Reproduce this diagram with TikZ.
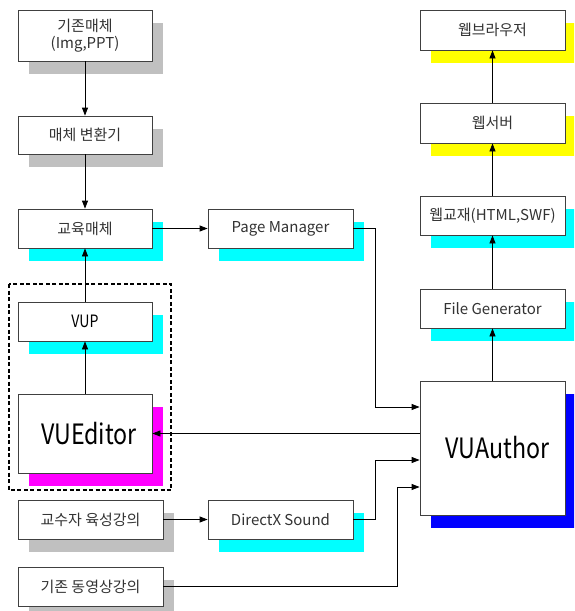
\documentclass[tikz,border=0pt]{standalone}
\usepackage{fontspec}
\setmainfont{Noto Sans CJK KR}
\newfontfamily\narrowfont[FakeStretch=0.83]{Noto Sans CJK KR}
\usetikzlibrary{arrows.meta,shadows}
\definecolor{shgray}{HTML}{C0C0C0}
\definecolor{shcyan}{HTML}{00FFFF}
\definecolor{shyellow}{HTML}{FFFF00}
\definecolor{shmagenta}{HTML}{FF00FF}
\definecolor{shblue}{HTML}{0000FF}
\tikzset{
  box/.style={draw=black!75, line width=0.8pt, fill=white, rectangle, inner sep=0pt,
    text=black!80, font=\fontsize{15}{17}\selectfont, align=center,
    minimum width=134pt, minimum height=39pt},
  wide/.style={minimum width=145pt},
  big/.style={text=black, font=\narrowfont\fontsize{28}{32}\selectfont},
  sh/.style={drop shadow={shadow xshift=11pt, shadow yshift=-13pt, fill=#1, opacity=1}},
  arr/.style={draw=black, line width=0.8pt, -{Triangle[length=8pt,width=6pt]}}
}
\begin{document}
\begin{tikzpicture}[x=1pt,y=-1pt]
\clip (0,0) rectangle (574,611);
\fill[white] (0,0) rectangle (574,611);
% left column
\node[box, sh=shgray, minimum height=51pt] (orig) at (85,35.5) {기존매체\\(Img,PPT)};
\node[box, sh=shgray, minimum height=38pt] (conv) at (85,135) {매체 변환기};
\node[box, sh=shcyan] (edu) at (85,228.5) {교육매체};
\node[box, sh=shcyan, wide] (pm) at (280.5,228.5) {Page Manager};
\node[box, sh=shcyan, text=black, font=\narrowfont\fontsize{17}{20}\selectfont] (vup) at (85,321.5) {VUP};
\node[box, sh=shmagenta, minimum height=79pt, big] (vued) at (85,433.5) {\hspace*{8pt}VUEditor};
\node[box, sh=shgray, wide] (prof) at (90.5,519.5) {교수자 육성강의};
\node[box, sh=shgray, wide] (old) at (90.5,586.5) {기존 동영상강의};
\node[box, sh=shcyan, wide] (dx) at (280.5,519.5) {DirectX Sound};
% right column
\node[box, sh=shyellow, wide, minimum height=40pt] (brow) at (492.5,30) {웹브라우저};
\node[box, sh=shyellow, wide, minimum height=40pt] (wsrv) at (492.5,123) {웹서버};
\node[box, sh=shcyan, wide] (wmat) at (492.5,215.5) {웹교재(HTML,SWF)};
\node[box, sh=shcyan, wide] (fg) at (492.5,308.5) {File Generator};
\node[box, sh=shblue, wide, minimum height=134pt, big] (vua) at (492.5,448) {\hspace*{10pt}VUAuthor};
% dashed group
\draw[dashed, line width=1.1pt, dash pattern=on 4pt off 2.5pt] (9,284) rectangle (171,490);
% connectors
\draw[arr] (orig.south) -- (conv.north);
\draw[arr] (conv.south) -- (edu.north);
\draw[arr] (vup.north) -- (edu.south);
\draw[arr] (vued.north) -- (vup.south);
\draw[arr] (edu.east) -- (pm.west);
\draw[arr] (prof.east) -- (dx.west);
\draw[arr] (pm.east) -- ++(22,0) |- ([yshift=41pt]vua.west);
\draw[arr] (vua.west |- vued.east) -- (vued.east);
\draw[arr] (dx.east) -- ++(22,0) |- ([yshift=-12pt]vua.west);
\draw[arr] (old.east) -- ++(234,0) |- ([yshift=-39pt]vua.west);
\draw[arr] (vua.north) -- (fg.south);
\draw[arr] (fg.north) -- (wmat.south);
\draw[arr] (wmat.north) -- (wsrv.south);
\draw[arr] (wsrv.north) -- (brow.south);
\end{tikzpicture}
\end{document}
